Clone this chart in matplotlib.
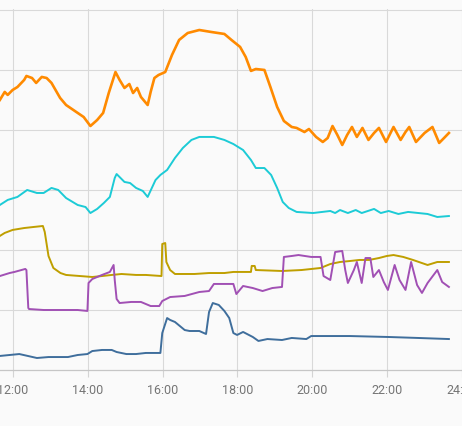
import matplotlib
matplotlib.use('Agg')
import matplotlib.pyplot as plt

# hours of the day / values
orange_t = [11.65, 11.78, 11.86, 11.99, 12.12, 12.30, 12.36, 12.51, 12.62, 12.77, 12.90, 13.03, 13.26,
            13.42, 13.73, 13.89, 14.07, 14.25, 14.41, 14.56, 14.74, 14.85, 14.98, 15.11, 15.21, 15.32,
            15.42, 15.60, 15.68, 15.78, 15.89, 16.07, 16.25, 16.44, 16.67, 16.98, 17.29, 17.65, 17.84,
            18.07, 18.22, 18.36, 18.49, 18.72, 18.88, 19.06, 19.24, 19.45, 19.58, 19.79, 19.91, 20.10,
            20.28, 20.41, 20.54, 20.67, 20.80, 20.93, 21.06, 21.19, 21.34, 21.50, 21.65, 21.78, 21.97,
            22.17, 22.36, 22.49, 22.59, 22.77, 23.00, 23.21, 23.39, 23.52, 23.65]
orange_v = [22.5, 23.17, 22.92, 23.33, 23.58, 24.17, 24.5, 24.33, 23.92, 24.42, 24.33, 23.92, 22.67,
            22.08, 21.42, 21.08, 20.33, 20.83, 21.42, 23.08, 24.83, 24.17, 23.5, 23.83, 23.08, 23.5,
            22.75, 22.08, 23.17, 24.33, 24.58, 24.83, 26.25, 27.5, 28.08, 28.33, 28.17, 28.0, 27.5,
            26.92, 26.08, 24.92, 25.08, 25.0, 23.58, 21.92, 20.75, 20.25, 20.17, 19.83, 20.08, 19.42,
            19.0, 19.33, 20.33, 19.58, 18.75, 19.58, 20.25, 19.42, 20.17, 19.17, 19.75, 20.17, 19.0,
            20.25, 19.17, 19.83, 20.25, 19.0, 19.75, 20.25, 18.92, 19.33, 19.75]

cyan_t = [11.65, 11.86, 12.12, 12.38, 12.64, 12.82, 13.03, 13.21, 13.42, 13.73, 13.94, 14.07, 14.25,
          14.43, 14.59, 14.72, 14.77, 14.98, 15.13, 15.29, 15.47, 15.60, 15.81, 15.94, 16.12, 16.33,
          16.54, 16.77, 16.98, 17.37, 17.65, 17.89, 18.15, 18.36, 18.49, 18.72, 18.90, 19.06, 19.21,
          19.37, 19.58, 20.02, 20.48, 20.61, 20.74, 20.95, 21.16, 21.32, 21.65, 21.83, 22.04, 22.30,
          22.56, 23.08, 23.34, 23.65]
cyan_v = [13.75, 14.17, 14.42, 15.0, 14.75, 14.75, 15.17, 15.0, 14.33, 13.75, 13.58, 13.08, 13.42,
          13.92, 14.42, 16.0, 16.33, 15.67, 15.58, 15.17, 14.92, 14.42, 15.83, 16.25, 16.67, 17.67,
          18.5, 19.17, 19.42, 19.42, 19.17, 18.83, 18.33, 17.5, 16.83, 16.83, 16.25, 15.17, 14.0,
          13.5, 13.17, 13.08, 13.25, 13.08, 13.33, 13.08, 13.33, 13.08, 13.42, 13.08, 13.25, 13.0,
          13.17, 13.0, 12.75, 12.83]

gold_t = [11.65, 11.78, 11.99, 12.30, 12.56, 12.80, 12.85, 12.95, 13.08, 13.27, 13.42, 14.12, 14.38,
          14.64, 14.90, 15.29, 15.55, 15.97, 15.99, 16.07, 16.10, 16.20, 16.33, 16.85, 17.24, 17.65,
          17.89, 18.36, 18.38, 18.46, 18.49, 19.19, 19.71, 20.22, 20.48, 20.74, 21.00, 21.26, 21.52,
          21.78, 21.99, 22.17, 22.43, 22.69, 23.08, 23.34, 23.65]
gold_v = [11.17, 11.42, 11.67, 11.83, 11.92, 12.0, 11.5, 9.5, 8.5, 8.08, 7.92, 7.75, 7.83,
          7.92, 8.0, 7.92, 7.92, 7.83, 10.5, 10.58, 9.0, 8.33, 8.0, 8.0, 8.08, 8.08,
          8.17, 8.17, 8.67, 8.67, 8.33, 8.25, 8.33, 8.5, 8.83, 9.0, 9.08, 9.17, 9.17,
          9.33, 9.5, 9.58, 9.42, 9.17, 8.75, 9.0, 9.0]

purple_t = [11.65, 11.91, 12.04, 12.33, 12.36, 12.41, 12.43, 12.82, 13.73, 13.99, 14.02, 14.12, 14.38,
            14.59, 14.69, 14.72, 14.77, 14.85, 15.16, 15.42, 15.68, 15.91, 15.99, 16.20, 16.59, 16.98,
            17.24, 17.37, 17.65, 17.89, 17.97, 18.15, 18.41, 18.67, 18.93, 19.19, 19.24, 19.45, 19.63,
            19.97, 20.22, 20.30, 20.48, 20.61, 20.80, 20.88, 20.95, 21.11, 21.19, 21.32, 21.42, 21.55,
            21.63, 21.78, 21.91, 22.02, 22.20, 22.33, 22.49, 22.64, 22.80, 22.93, 23.08, 23.34, 23.47,
            23.65]
purple_v = [7.83, 8.08, 8.17, 8.42, 8.33, 5.17, 5.08, 5.0, 5.0, 4.92, 7.25, 7.58, 7.92,
            8.17, 8.75, 7.5, 5.92, 5.58, 5.67, 5.67, 5.33, 5.33, 5.75, 6.08, 6.17, 6.5,
            6.58, 7.17, 7.17, 7.17, 6.33, 7.0, 6.83, 6.58, 6.83, 6.92, 9.42, 9.5, 9.58,
            9.42, 9.42, 7.83, 7.5, 9.83, 9.92, 8.33, 7.25, 8.33, 9.0, 7.25, 9.33, 9.33,
            7.75, 8.33, 7.33, 6.67, 8.75, 7.5, 6.67, 9.0, 7.08, 6.42, 7.25, 8.33, 7.33,
            6.92]

blue_t = [11.65, 12.17, 12.64, 12.95, 13.47, 13.73, 13.99, 14.12, 14.38, 14.64, 14.77, 15.03, 15.29,
          15.55, 15.94, 15.99, 16.12, 16.20, 16.33, 16.59, 16.72, 16.98, 17.16, 17.24, 17.34, 17.50,
          17.65, 17.78, 17.89, 17.99, 18.15, 18.41, 18.56, 18.80, 19.19, 19.45, 19.84, 19.97, 20.22,
          21.00, 22.04, 22.82, 23.65]
blue_v = [1.17, 1.33, 1.0, 1.08, 1.08, 1.25, 1.33, 1.58, 1.67, 1.67, 1.5, 1.33, 1.33,
          1.42, 1.42, 3.08, 4.33, 4.17, 4.0, 3.33, 3.25, 3.25, 3.0, 4.83, 5.58, 5.42,
          4.92, 4.33, 3.08, 2.92, 3.17, 2.75, 2.42, 2.58, 2.5, 2.67, 2.58, 2.83, 2.83,
          2.83, 2.75, 2.67, 2.58]

tick_hours = [12, 14, 16, 18, 20, 22, 24]
tick_labels = ['12:00', '14:00', '16:00', '18:00', '20:00', '22:00', '24:00']


def main():
    plt.rcParams['font.family'] = ['Roboto', 'DejaVu Sans']
    fig = plt.figure(figsize=(4.62, 4.26), dpi=100, facecolor='#fafafa')
    ax = fig.add_axes([0, 56 / 426, 1, 361 / 426])
    ax.set_facecolor('#fafafa')

    ax.plot(orange_t, orange_v, color='#ff8a00', lw=1.9)
    ax.plot(cyan_t, cyan_v, color='#1ccbd6', lw=1.4)
    ax.plot(gold_t, gold_v, color='#bf9f00', lw=1.4)
    ax.plot(purple_t, purple_v, color='#a150b4', lw=1.4)
    ax.plot(blue_t, blue_v, color='#3f6e9c', lw=1.4)

    ax.set_xlim(11.654, 23.654)
    ax.set_ylim(0, 30.08)
    ax.set_xticks(tick_hours)
    ax.set_xticklabels(tick_labels)
    ax.set_yticks([5, 10, 15, 20, 25, 30])
    ax.tick_params(axis='y', left=False, labelleft=False)
    ax.tick_params(axis='x', length=5, width=0.8, color='#d4d4d4', pad=5,
                   labelsize=9, labelcolor='#757575')
    ax.grid(True, color='#d9d9d9', lw=0.8)
    ax.set_axisbelow(True)
    for s in ['top', 'left', 'right']:
        ax.spines[s].set_visible(False)
    ax.spines['bottom'].set_color('#c6c6c6')
    ax.spines['bottom'].set_linewidth(0.9)

    fig.savefig('out.png', dpi=100, facecolor='#fafafa')


if __name__ == '__main__':
    main()
